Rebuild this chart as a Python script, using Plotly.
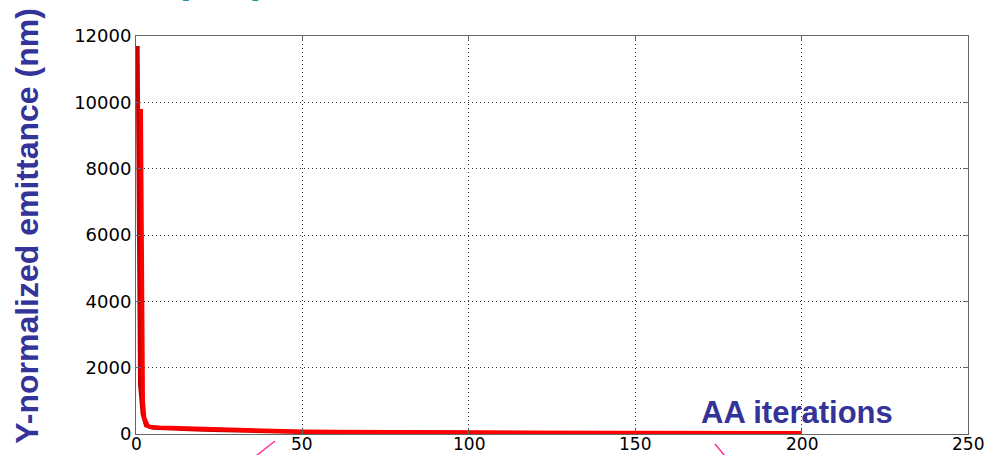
import plotly.graph_objects as go

# Data
dark_iter = [0.5, 0.7, 0.85, 1.2, 2.0, 3, 5, 10, 20, 50, 100, 150, 200]
dark_emit = [11700, 9000, 3600, 1500, 600, 260, 190, 160, 130, 60, 35, 28, 25]

bright_iter = [1.5, 1.7, 1.9, 2.1, 2.5, 3, 3.5, 4, 5, 7, 10, 15, 20, 25, 30, 40,
               50, 60, 75, 100, 125, 150, 175, 200]
bright_emit = [9800, 6300, 2600, 1000, 500, 330, 250, 220, 205, 195, 185, 170,
               155, 140, 125, 95, 75, 65, 55, 45, 40, 36, 33, 30]

x_ticks = [0, 50, 100, 150, 200, 250]
y_ticks = [0, 2000, 4000, 6000, 8000, 10000, 12000]

ylabel = "Y-normalized emittance (nm)"
xlabel = "AA iterations"
top_text = "(nm)"

fig = go.Figure()
fig.add_trace(go.Scatter(x=dark_iter, y=dark_emit, mode="lines",
                         line=dict(color="#c80000", width=4), showlegend=False))
fig.add_trace(go.Scatter(x=bright_iter, y=bright_emit, mode="lines",
                         line=dict(color="#ff0000", width=4), showlegend=False))

axis_common = dict(
    showline=True, linecolor="#666666", linewidth=1, mirror="ticks",
    ticks="inside", ticklen=5, tickcolor="#666666",
    showgrid=True, gridcolor="#333333", gridwidth=1, griddash="1px,3px",
    zeroline=False, automargin=False,
)

fig.update_xaxes(range=[0, 250], tickvals=x_ticks, showticklabels=False,
                 **axis_common)
fig.update_yaxes(range=[0, 12000], tickvals=y_ticks, ticktext=[str(v) for v in y_ticks],
                 tickfont=dict(family="DejaVu Sans", size=18, color="#000000"),
                 **axis_common)

# x tick labels placed as text just below the axis
for v in x_ticks:
    fig.add_annotation(text=str(v), xref="x", yref="paper", x=v, y=-0.0528,
                       showarrow=False, xanchor="center", yanchor="bottom",
                       borderpad=0,
                       font=dict(family="DejaVu Sans", size=17, color="#000000"))

fig.add_annotation(text=f"<b>{ylabel}</b>", xref="paper", yref="paper",
                   x=-0.131, y=0.523, textangle=-90, showarrow=False,
                   font=dict(family="Liberation Sans", size=32, color="#333399"),
                   xanchor="center", yanchor="middle")
fig.add_annotation(text=f"<b>{xlabel}</b>", xref="paper", yref="paper",
                   x=0.795, y=0.055, showarrow=False,
                   font=dict(family="Liberation Sans", size=31, color="#333399"),
                   xanchor="center", yanchor="middle")
fig.add_annotation(text=f"<b>{top_text}</b>", xref="paper", yref="paper",
                   x=0.101, y=1.083, showarrow=False,
                   font=dict(family="Liberation Sans", size=42, color="#1a9a9a"),
                   xanchor="center", yanchor="bottom")

# decorative pink strokes from the slide
fig.add_shape(type="line", xref="paper", yref="paper",
              x0=(256 - 136) / 832, y0=(434 - 456) / 398,
              x1=(275 - 136) / 832, y1=(434 - 441) / 398,
              line=dict(color="#ff3399", width=1.5))
fig.add_shape(type="line", xref="paper", yref="paper",
              x0=(715 - 136) / 832, y0=(434 - 444) / 398,
              x1=(725 - 136) / 832, y1=(434 - 456) / 398,
              line=dict(color="#ff3399", width=1.5))

fig.update_layout(
    width=991, height=455,
    margin=dict(l=136, r=23, t=36, b=21),
    paper_bgcolor="white", plot_bgcolor="white",
    showlegend=False,
)

fig.write_html("out.html")
